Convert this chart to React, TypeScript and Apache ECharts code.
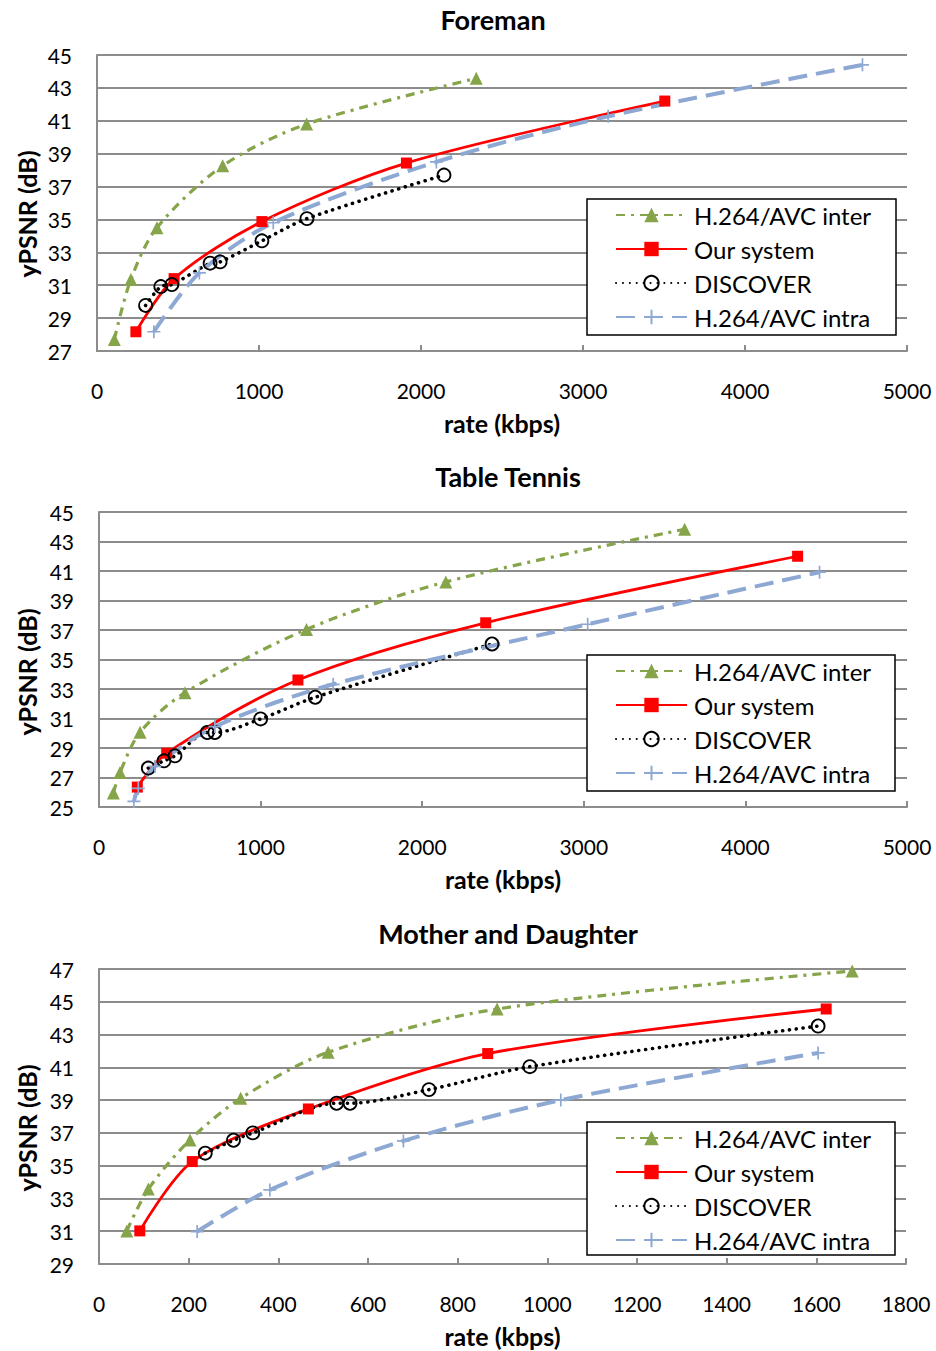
import React, { useEffect, useRef } from "react";
import * as echarts from "echarts";

// ---------- data ----------
const seriesNames = ["H.264/AVC inter", "Our system", "DISCOVER", "H.264/AVC intra"];
const chartTitles = ["Foreman", "Table Tennis", "Mother and Daughter"];

// Foreman
const foremanInterRate = [107, 209, 370, 776, 1294, 2341];
const foremanInterPsnr = [27.7, 31.35, 34.5, 38.26, 40.8, 43.58];
const foremanOursRate = [240, 476, 1018, 1910, 3505];
const foremanOursPsnr = [28.17, 31.4, 34.87, 38.43, 42.2];
const foremanDiscRate = [300, 394, 462, 698, 760, 1018, 1296, 2142];
const foremanDiscPsnr = [29.77, 30.92, 31.04, 32.34, 32.42, 33.7, 35.05, 37.7];
const foremanIntraRate = [351, 632, 1088, 2095, 3155, 4725];
const foremanIntraPsnr = [28.17, 31.75, 34.8, 38.5, 41.27, 44.4];

// Table Tennis
const tennisInterRate = [89, 130, 254, 532, 1284, 2146, 3624];
const tennisInterPsnr = [25.95, 27.34, 30.07, 32.75, 37.04, 40.26, 43.83];
const tennisOursRate = [237, 419, 1231, 2393, 4323];
const tennisOursPsnr = [26.35, 28.65, 33.61, 37.49, 42.0];
const tennisDiscRate = [305, 402, 470, 670, 717, 1000, 1338, 2432];
const tennisDiscPsnr = [27.64, 28.13, 28.47, 30.05, 30.05, 30.97, 32.44, 36.05];
const tennisIntraRate = [216, 243, 346, 717, 1449, 3024, 4459];
const tennisIntraPsnr = [25.38, 26.26, 27.75, 30.45, 33.32, 37.39, 40.92];

// Mother and Daughter
const motherInterRate = [62, 110, 203, 316, 511, 888, 1680];
const motherInterPsnr = [31.02, 33.57, 36.57, 39.11, 41.92, 44.56, 46.88];
const motherOursRate = [91, 208, 467, 867, 1622];
const motherOursPsnr = [31.02, 35.25, 38.46, 41.84, 44.56];
const motherDiscRate = [237, 300, 343, 530, 560, 736, 961, 1604];
const motherDiscPsnr = [35.76, 36.55, 37.0, 38.81, 38.81, 39.64, 41.04, 43.52];
const motherIntraRate = [219, 381, 679, 1030, 1604];
const motherIntraPsnr = [30.98, 33.52, 36.51, 39.0, 41.88];

// axis ranges / ticks
const xMax = [5000, 5000, 1800];
const xStep = [1000, 1000, 200];
const yMin = [27, 25, 29];
const yMax = [45, 45, 47];
const xAxisName = "rate (kbps)";
const yAxisName = "yPSNR (dB)";

// ---------- layout ----------
const grids = [
  { left: 97, top: 55, width: 810, height: 296 },
  { left: 99, top: 512, width: 808, height: 295 },
  { left: 99, top: 969, width: 807, height: 295 },
];
const titlePos = [
  { x: 493, top: 6 },
  { x: 508, top: 463 },
  { x: 508, top: 920 },
];
const yNameCenter = [214, 672, 1128];
const legendBoxes = [
  { x: 587, y: 199, w: 309, h: 136 },
  { x: 587, y: 655, w: 308, h: 136 },
  { x: 587, y: 1122, w: 308, h: 133 },
];

const FONT = "Lato, 'Open Sans', sans-serif";
const GRID_GRAY = "#8c8c8c";
const GREEN = "#86A44A";
const RED = "#FF0000";
const BLUE = "#8EA8D4";

const zip = (a: number[], b: number[]) => a.map((v, i) => [v, b[i]]);

const chartData = [
  [
    zip(foremanInterRate, foremanInterPsnr),
    zip(foremanOursRate, foremanOursPsnr),
    zip(foremanDiscRate, foremanDiscPsnr),
    zip(foremanIntraRate, foremanIntraPsnr),
  ],
  [
    zip(tennisInterRate, tennisInterPsnr),
    zip(tennisOursRate, tennisOursPsnr),
    zip(tennisDiscRate, tennisDiscPsnr),
    zip(tennisIntraRate, tennisIntraPsnr),
  ],
  [
    zip(motherInterRate, motherInterPsnr),
    zip(motherOursRate, motherOursPsnr),
    zip(motherDiscRate, motherDiscPsnr),
    zip(motherIntraRate, motherIntraPsnr),
  ],
];

const PLUS = "path://M0,5L10,5M5,0L5,10";

function seriesStyle(k: number) {
  if (k === 0)
    return {
      symbol: "triangle",
      symbolSize: 13,
      itemStyle: { color: GREEN },
      lineStyle: { color: GREEN, width: 3.2, type: [9, 6, 3, 6] },
    };
  if (k === 1)
    return {
      symbol: "rect",
      symbolSize: 11,
      itemStyle: { color: RED },
      lineStyle: { color: RED, width: 2.8, type: "solid" },
    };
  if (k === 2)
    return {
      symbol: "circle",
      symbolSize: 13,
      itemStyle: { color: "rgba(255,255,255,0)", borderColor: "#000", borderWidth: 1.8 },
      lineStyle: { color: "#000", width: 3.6, type: [0.1, 6.8], cap: "round" },
    };
  return {
    symbol: PLUS,
    symbolSize: 13,
    itemStyle: { color: "none", borderColor: BLUE, borderWidth: 1.7 },
    lineStyle: { color: BLUE, width: 4, type: [19, 9] },
  };
}

export default function App() {
  const ref = useRef<HTMLDivElement>(null);

  useEffect(() => {
    if (!ref.current) return;
    const chart = echarts.init(ref.current, undefined, { renderer: "svg" });

    const xAxes = grids.map((_, i) => ({
      type: "value",
      gridIndex: i,
      min: 0,
      max: xMax[i],
      interval: xStep[i],
      name: xAxisName,
      nameLocation: "middle",
      nameGap: 59,
      nameTextStyle: { fontFamily: FONT, fontSize: 25, fontWeight: "bold", color: "#000" },
      axisLine: { show: true, lineStyle: { color: GRID_GRAY, width: 2 } },
      axisTick: { show: true, inside: true, length: 6, lineStyle: { color: GRID_GRAY, width: 2 } },
      axisLabel: {
        margin: 29,
        fontFamily: FONT,
        fontSize: 21,
        color: "#000",
        formatter: (v: number) => String(Math.round(v)),
      },
      splitLine: { show: false },
    }));

    const yAxes = grids.map((_, i) => ({
      type: "value",
      gridIndex: i,
      min: yMin[i],
      max: yMax[i],
      interval: 1,
      axisLine: { show: true, lineStyle: { color: GRID_GRAY, width: 2 } },
      axisTick: { show: false },
      axisLabel: {
        margin: 25,
        fontFamily: FONT,
        fontSize: 21,
        color: "#000",
        formatter: (v: number) => ((Math.round(v) - yMin[i]) % 2 === 0 ? String(Math.round(v)) : ""),
      },
      splitLine: {
        show: true,
        lineStyle: { color: [GRID_GRAY, "rgba(0,0,0,0)"], width: 2 },
      },
    }));

    const series: any[] = [];
    chartData.forEach((sets, i) => {
      sets.forEach((data, k) => {
        series.push({
          type: "line",
          name: seriesNames[k],
          xAxisIndex: i,
          yAxisIndex: i,
          data,
          smooth: 0.3,
          showSymbol: true,
          ...seriesStyle(k),
        });
      });
    });

    const legends = legendBoxes.map((b) => ({
      orient: "vertical",
      left: b.x + 28,
      top: b.y + 4,
      padding: 0,
      itemWidth: 71,
      itemHeight: 18,
      itemGap: 10,
      z: 200,
      selectedMode: false,
      data: seriesNames,
      textStyle: { fontFamily: FONT, fontSize: 24, color: "#000", lineHeight: 24, padding: [0, 0, 0, 2] },
    }));

    const graphics: any[] = [];
    legendBoxes.forEach((b) => {
      graphics.push({
        type: "rect",
        z: 100,
        shape: { x: b.x, y: b.y, width: b.w, height: b.h },
        style: { fill: "#fff", stroke: "#000", lineWidth: 1.5 },
      });
    });
    yNameCenter.forEach((cy) => {
      graphics.push({
        type: "text",
        x: 27,
        y: cy,
        rotation: Math.PI / 2,
        z: 100,
        style: {
          text: yAxisName,
          fontFamily: FONT,
          fontSize: 25,
          fontWeight: "bold",
          fill: "#000",
          align: "center",
          verticalAlign: "middle",
        },
      });
    });

    chart.setOption({
      animation: false,
      backgroundColor: "#fff",
      title: chartTitles.map((t, i) => ({
        text: t,
        left: titlePos[i].x,
        top: titlePos[i].top,
        textAlign: "center",
        padding: 0,
        textStyle: { fontFamily: FONT, fontSize: 27, fontWeight: "bold", color: "#000" },
      })),
      grid: grids.map((g) => ({ ...g, containLabel: false })),
      xAxis: xAxes,
      yAxis: yAxes,
      legend: legends,
      graphic: graphics,
      series,
    });

    return () => chart.dispose();
  }, []);

  return (
    <div
      ref={ref}
      style={{ position: "absolute", left: 0, top: 0, width: 936, height: 1351, background: "#fff" }}
    />
  );
}
